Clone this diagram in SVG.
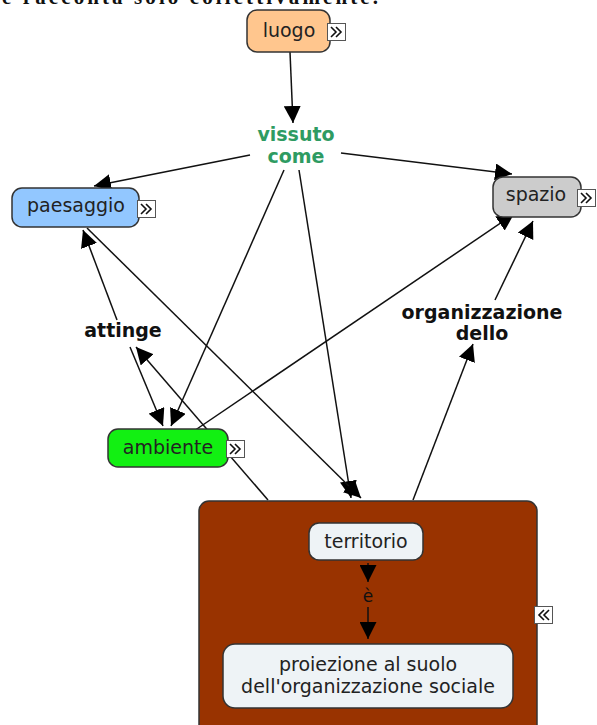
<svg xmlns="http://www.w3.org/2000/svg" xmlns:xlink="http://www.w3.org/1999/xlink" width="597" height="725" viewBox="0 0 597 725">
<style>
.node rect.box{stroke:#333;stroke-width:1.5}
.t{font-family:"DejaVu Sans",Verdana,sans-serif;font-size:19px;fill:#222;text-anchor:middle}
.lbl{font-family:"DejaVu Sans",Verdana,sans-serif;font-size:19px;font-weight:bold;fill:#111;text-anchor:middle}
.green{fill:#2E9B62}
.conn line, .conn path{stroke:#111;stroke-width:1.5;fill:none}
.ico{fill:#fff;stroke:#555;stroke-width:1}
.chev{fill:none;stroke:#111;stroke-width:1.6}
</style>
<defs>
<marker id="arr" markerUnits="userSpaceOnUse" markerWidth="17" markerHeight="17" viewBox="0 0 16 16" refX="16" refY="8" orient="auto">
<path d="M0,0 L16,8 L0,16 z" fill="#000"/>
</marker>
<symbol id="exp" viewBox="0 0 19 18" overflow="visible">
<rect class="ico" x="0.5" y="0.5" width="18" height="17"/>
<path class="chev" d="M4,4 L9,9 L4,14 M9,4 L14,9 L9,14"/>
</symbol>
<symbol id="col" viewBox="0 0 19 18" overflow="visible">
<rect class="ico" x="0.5" y="0.5" width="18" height="17"/>
<path class="chev" d="M10,4 L5,9 L10,14 M15,4 L10,9 L15,14"/>
</symbol>
</defs>
<rect width="597" height="725" fill="#fff"/>
<text x="2" y="4" font-family="Liberation Serif,serif" font-size="21" font-weight="bold" fill="#111" textLength="376" lengthAdjust="spacing">e racconta solo collettivamente.</text>

<g id="connectors" class="conn">
<line x1="290" y1="52" x2="293" y2="123" marker-end="url(#arr)"/>
<line x1="250" y1="155" x2="94" y2="186" marker-end="url(#arr)"/>
<line x1="341" y1="153" x2="512" y2="174" marker-end="url(#arr)"/>
<line x1="284" y1="170" x2="171" y2="426" marker-end="url(#arr)"/>
<line x1="299" y1="170" x2="351" y2="498" marker-end="url(#arr)"/>
<line x1="87" y1="228" x2="361" y2="498" marker-end="url(#arr)"/>
<line x1="117" y1="320" x2="83" y2="230" marker-end="url(#arr)"/>
<line x1="130" y1="347" x2="163" y2="426" marker-end="url(#arr)"/>
<line x1="268" y1="500" x2="136" y2="347" marker-end="url(#arr)"/>
<line x1="188" y1="435" x2="514" y2="214" marker-end="url(#arr)"/>
<line x1="413" y1="500" x2="473" y2="344" marker-end="url(#arr)"/>
<line x1="495" y1="300" x2="533" y2="221" marker-end="url(#arr)"/>
</g>

<g id="luogo" class="node">
<rect class="box" x="247" y="10" width="83" height="42" rx="10" fill="#FFC68E"/>
<text class="t" x="289" y="37">luogo</text>
<use xlink:href="#exp" x="327" y="23" width="19" height="18"/>
</g>

<g id="vissuto-come" class="node">
<text class="lbl green" x="296" y="141">vissuto</text>
<text class="lbl green" x="296" y="163">come</text>
</g>

<g id="paesaggio" class="node">
<rect class="box" x="12" y="188" width="127" height="39" rx="10" fill="#92C7FF"/>
<text class="t" x="76" y="212">paesaggio</text>
<use xlink:href="#exp" x="137" y="200" width="19" height="18"/>
</g>

<g id="spazio" class="node">
<rect class="box" x="493" y="177" width="88" height="40" rx="10" fill="#CCCCCC"/>
<text class="t" x="536" y="201">spazio</text>
<use xlink:href="#exp" x="577" y="189" width="19" height="18"/>
</g>

<g id="attinge" class="node">
<text class="lbl" x="123" y="337">attinge</text>
</g>

<g id="organizzazione-dello" class="node">
<text class="lbl" x="482" y="319">organizzazione</text>
<text class="lbl" x="482" y="340">dello</text>
</g>

<g id="ambiente" class="node">
<rect class="box" x="108" y="429" width="120" height="38" rx="10" fill="#12F012"/>
<text class="t" x="168" y="454">ambiente</text>
<use xlink:href="#exp" x="226" y="440" width="19" height="18"/>
</g>

<g id="territorio-gruppo" class="node">
<rect class="box" x="199" y="501" width="338" height="240" rx="10" fill="#993300"/>
<use xlink:href="#col" x="534" y="606" width="19" height="18"/>
<g class="conn">
<line x1="368" y1="563" x2="368" y2="582" marker-end="url(#arr)"/>
<line x1="368" y1="607" x2="368" y2="639" marker-end="url(#arr)"/>
</g>
<text x="368" y="602" font-family="DejaVu Sans,Verdana,sans-serif" font-size="17" fill="#111" text-anchor="middle">è</text>
</g>

<g id="territorio" class="node">
<rect class="box" x="309" y="523" width="114" height="37" rx="10" fill="#EEF3F6"/>
<text class="t" x="366" y="548">territorio</text>
</g>

<g id="proiezione" class="node">
<rect class="box" x="223" y="644" width="290" height="64" rx="12" fill="#EEF3F6"/>
<text class="t" x="368" y="671">proiezione al suolo</text>
<text class="t" x="368" y="693">dell'organizzazione sociale</text>
</g>
</svg>
